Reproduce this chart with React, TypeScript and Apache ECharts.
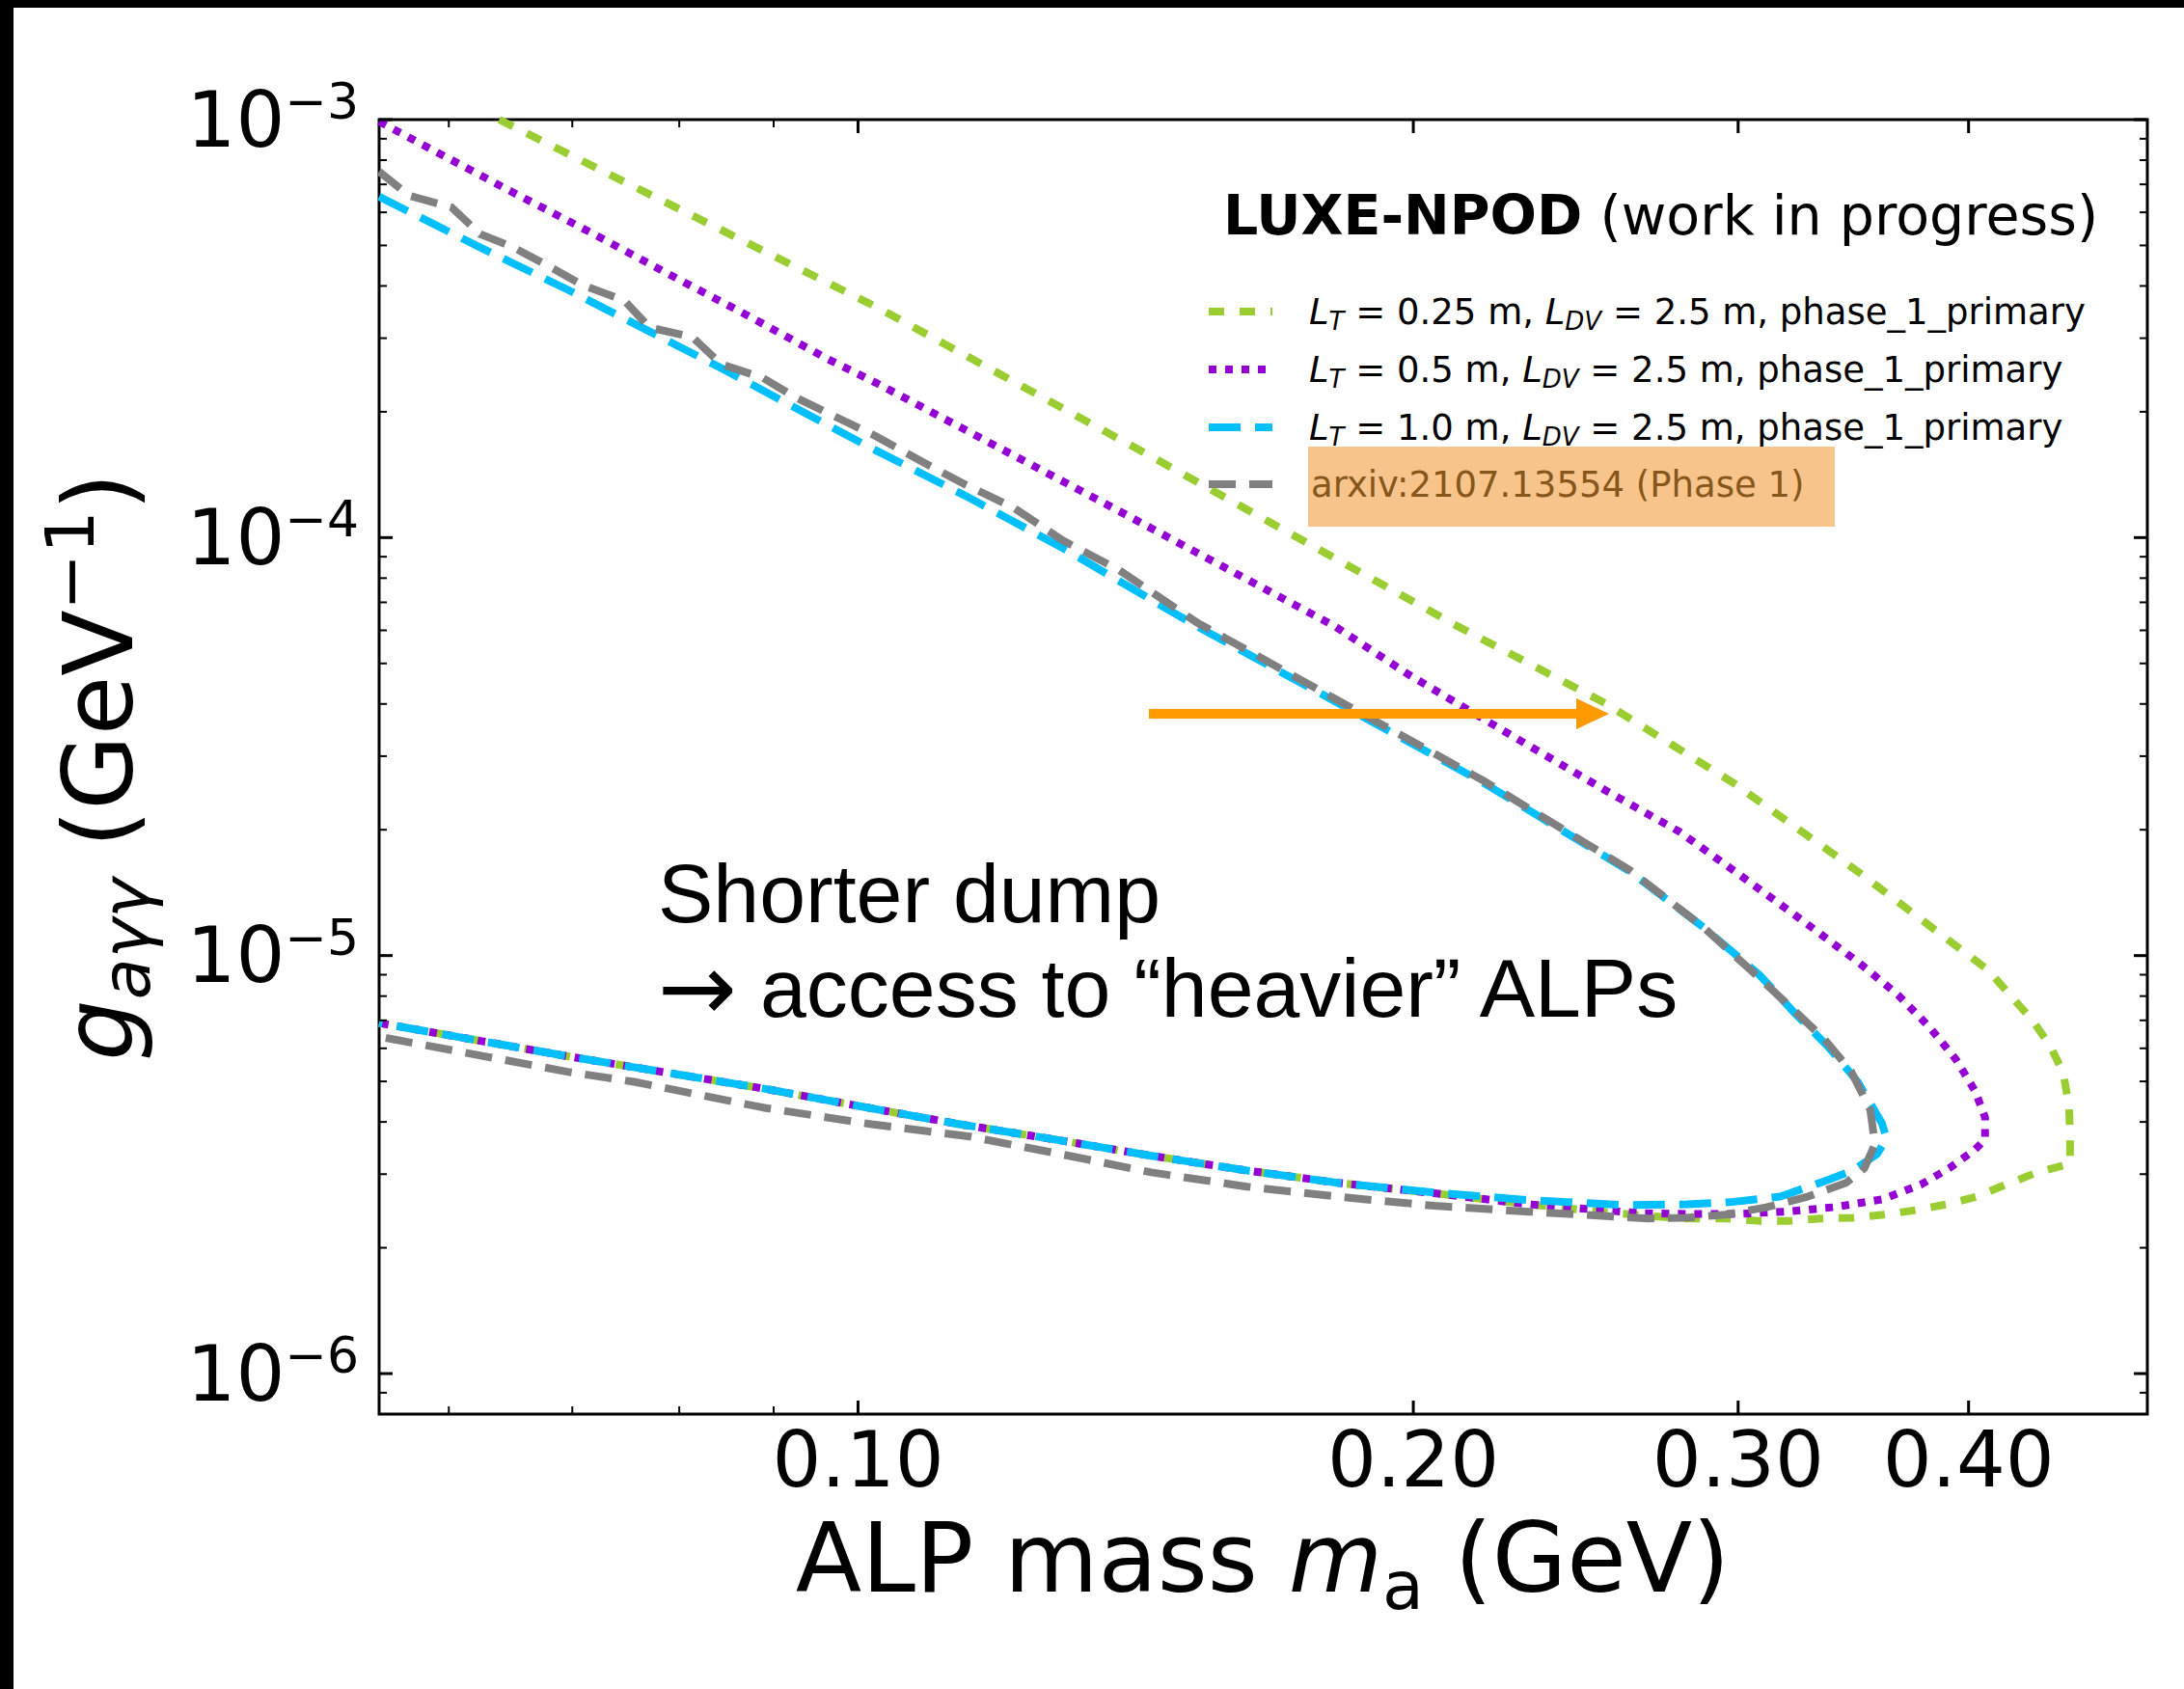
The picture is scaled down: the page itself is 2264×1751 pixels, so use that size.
import React, { useEffect, useRef } from 'react';
import * as echarts from 'echarts';

const W = 2264;
const H = 1751;
const FONT = 'DejaVu Sans';

// Axis ranges (log–log)
const X_MIN = 0.055;
const X_MAX = 0.5;
const Y_MIN = 8e-7;
const Y_MAX = 1e-3;

// Tick positions and labels
const xMajorTicks = [0.1, 0.2, 0.3, 0.4];
const xTickLabels = ['0.10', '0.20', '0.30', '0.40'];
const xMinorTicks = [0.06, 0.07, 0.08, 0.09];
const yMajorTicks = [1e-6, 1e-5, 1e-4, 1e-3];
const yTickExponents = ['−6', '−5', '−4', '−3'];
const yMinorTicks = [
  9e-7,
  2e-6, 3e-6, 4e-6, 5e-6, 6e-6, 7e-6, 8e-6, 9e-6,
  2e-5, 3e-5, 4e-5, 5e-5, 6e-5, 7e-5, 8e-5, 9e-5,
  2e-4, 3e-4, 4e-4, 5e-4, 6e-4, 7e-4, 8e-4, 9e-4,
];

// Sensitivity contours: [ALP mass m_a (GeV), g_aγγ (GeV^-1)]
const contourLT025: [number, number][] = [
  [0.0639, 1.0e-3], [0.1026, 3.54e-4], [0.1455, 1.53e-4], [0.2113, 6.14e-5],
  [0.254, 4.02e-5], [0.2982, 2.59e-5], [0.3483, 1.59e-5], [0.4098, 9.24e-6],
  [0.4213, 8.04e-6], [0.4331, 7.01e-6], [0.4426, 6.11e-6], [0.4501, 5.26e-6],
  [0.4534, 4.39e-6], [0.454, 3.73e-6], [0.454, 3.18e-6], [0.4342, 3.01e-6],
  [0.4188, 2.83e-6], [0.4039, 2.65e-6], [0.3891, 2.54e-6], [0.3744, 2.46e-6],
  [0.3598, 2.4e-6], [0.3462, 2.36e-6], [0.3327, 2.35e-6], [0.3202, 2.32e-6],
  [0.3077, 2.32e-6], [0.2953, 2.35e-6], [0.2821, 2.35e-6], [0.2656, 2.39e-6],
  [0.2501, 2.45e-6], [0.2312, 2.54e-6], [0.2053, 2.7e-6], [0.182, 2.86e-6],
  [0.1625, 3.06e-6], [0.1442, 3.32e-6], [0.1279, 3.63e-6], [0.1135, 3.95e-6],
  [0.1026, 4.28e-6], [0.0888, 4.81e-6], [0.0698, 5.73e-6], [0.055, 6.9e-6],
];

const contourLT05: [number, number][] = [
  [0.055, 9.89e-4], [0.0594, 8.26e-4], [0.0649, 6.72e-4], [0.0721, 5.29e-4],
  [0.0787, 4.3e-4], [0.087, 3.41e-4], [0.0962, 2.68e-4], [0.1022, 2.35e-4],
  [0.1369, 1.19e-4], [0.1813, 6.14e-5], [0.1987, 4.71e-5], [0.2246, 3.42e-5],
  [0.254, 2.49e-5], [0.2787, 1.98e-5], [0.2982, 1.6e-5], [0.3221, 1.25e-5],
  [0.3491, 9.59e-6], [0.3664, 8.04e-6], [0.3812, 6.72e-6], [0.3938, 5.64e-6],
  [0.4034, 4.73e-6], [0.4083, 4.1e-6], [0.4083, 3.63e-6], [0.4034, 3.44e-6],
  [0.3905, 3.1e-6], [0.3767, 2.83e-6], [0.359, 2.61e-6], [0.338, 2.5e-6],
  [0.3182, 2.44e-6], [0.2996, 2.41e-6], [0.2821, 2.41e-6], [0.2656, 2.42e-6],
  [0.2312, 2.54e-6], [0.2053, 2.7e-6], [0.182, 2.86e-6], [0.1625, 3.06e-6],
  [0.1442, 3.32e-6], [0.1279, 3.63e-6], [0.1135, 3.95e-6], [0.1026, 4.28e-6],
  [0.0888, 4.81e-6], [0.0698, 5.73e-6], [0.055, 6.9e-6],
];

const contourLT10: [number, number][] = [
  [0.055, 6.54e-4], [0.0626, 4.91e-4], [0.0695, 3.93e-4], [0.0769, 3.13e-4],
  [0.0845, 2.53e-4], [0.0905, 2.15e-4], [0.1008, 1.67e-4], [0.1143, 1.26e-4],
  [0.1289, 9.48e-5], [0.1526, 6.14e-5], [0.1813, 4.06e-5], [0.218, 2.6e-5],
  [0.2621, 1.59e-5], [0.2872, 1.17e-5], [0.3081, 8.99e-6], [0.3221, 7.27e-6],
  [0.3355, 6.07e-6], [0.3483, 4.99e-6], [0.359, 3.97e-6], [0.3611, 3.65e-6],
  [0.3568, 3.35e-6], [0.3462, 3.06e-6], [0.3351, 2.9e-6], [0.3162, 2.65e-6],
  [0.2968, 2.57e-6], [0.2814, 2.54e-6], [0.2605, 2.53e-6], [0.2312, 2.6e-6],
  [0.2053, 2.71e-6], [0.182, 2.86e-6], [0.1625, 3.06e-6], [0.1442, 3.32e-6],
  [0.1279, 3.63e-6], [0.1135, 3.95e-6], [0.1026, 4.28e-6], [0.0888, 4.81e-6],
  [0.0698, 5.73e-6], [0.055, 6.9e-6],
];

const contourArxiv: [number, number][] = [
  [0.055, 7.51e-4], [0.0571, 6.58e-4], [0.0602, 6.17e-4], [0.0624, 5.32e-4],
  [0.0649, 4.97e-4], [0.0681, 4.44e-4], [0.0709, 4.02e-4], [0.0747, 3.69e-4],
  [0.0771, 3.18e-4], [0.0813, 3.02e-4], [0.0843, 2.6e-4], [0.0888, 2.41e-4],
  [0.0924, 2.17e-4], [0.0962, 1.99e-4], [0.1022, 1.75e-4], [0.1089, 1.5e-4],
  [0.1143, 1.34e-4], [0.1214, 1.18e-4], [0.1289, 9.89e-5], [0.1386, 8.35e-5],
  [0.1526, 6.27e-5], [0.1813, 4.12e-5], [0.218, 2.63e-5], [0.2621, 1.6e-5],
  [0.2872, 1.17e-5], [0.3088, 8.76e-6], [0.3213, 7.43e-6], [0.3339, 6.33e-6],
  [0.3454, 5.29e-6], [0.3538, 4.28e-6], [0.3559, 3.54e-6], [0.3512, 3.1e-6],
  [0.3433, 2.86e-6], [0.3272, 2.65e-6], [0.3107, 2.5e-6], [0.2953, 2.4e-6],
  [0.2811, 2.36e-6], [0.2682, 2.35e-6], [0.2312, 2.44e-6], [0.2053, 2.52e-6],
  [0.182, 2.65e-6], [0.1625, 2.8e-6], [0.1442, 3.03e-6], [0.1279, 3.37e-6],
  [0.115, 3.69e-6], [0.1017, 3.95e-6], [0.0888, 4.33e-6], [0.0756, 4.99e-6],
  [0.0698, 5.26e-6], [0.055, 6.4e-6],
];

const GREEN = '#9ACD32';
const PURPLE = '#9400D3';
const BLUE = '#00BFFF';
const GRAY = '#808080';

const curves = [
  { name: 'LT0.25', lt: '0.25', data: contourLT025, color: GREEN, dash: [16, 16] },
  { name: 'LT0.5', lt: '0.5', data: contourLT05, color: PURPLE, dash: [8, 9] },
  { name: 'LT1.0', lt: '1.0', data: contourLT10, color: BLUE, dash: [33, 15] },
  { name: 'arxiv', lt: '', data: contourArxiv, color: GRAY, dash: [28, 14] },
];

const MAJOR_LEN = 14;
const MINOR_LEN = 8;

const tickLine = (x1: number, y1: number, x2: number, y2: number, w: number) => ({
  type: 'line',
  shape: { x1, y1, x2, y2 },
  style: { stroke: '#000', lineWidth: w },
});

function buildOption() {
  const lineSeries = curves.map((c) => ({
    type: 'line',
    name: c.name,
    data: c.data,
    showSymbol: false,
    symbol: 'none',
    smooth: false,
    clip: true,
    silent: true,
    lineStyle: { color: c.color, width: 8, type: c.dash, cap: 'butt', join: 'round' },
  }));

  const xTickSeries = (values: number[], major: boolean) => ({
    type: 'custom',
    coordinateSystem: 'cartesian2d',
    silent: true,
    z: 5,
    data: values.map((v) => [v, Y_MIN]),
    renderItem: (params: any, api: any) => {
      const v = api.value(0);
      const b = api.coord([v, Y_MIN]);
      const t = api.coord([v, Y_MAX]);
      const len = major ? MAJOR_LEN : MINOR_LEN;
      const w = major ? 3 : 2;
      const children: any[] = [
        tickLine(b[0], b[1], b[0], b[1] - len, w),
        tickLine(t[0], t[1], t[0], t[1] + len, w),
      ];
      if (major) {
        children.push({
          type: 'text',
          x: b[0],
          y: b[1] + 47,
          style: {
            text: xTickLabels[params.dataIndex],
            fontFamily: FONT,
            fontSize: 80,
            fill: '#000',
            align: 'center',
            verticalAlign: 'middle',
          },
        });
      }
      return { type: 'group', children };
    },
  });

  const yTickSeries = (values: number[], major: boolean) => ({
    type: 'custom',
    coordinateSystem: 'cartesian2d',
    silent: true,
    z: 5,
    data: values.map((v) => [X_MIN, v]),
    renderItem: (params: any, api: any) => {
      const v = api.value(1);
      const l = api.coord([X_MIN, v]);
      const r = api.coord([X_MAX, v]);
      const len = major ? MAJOR_LEN : MINOR_LEN;
      const w = major ? 3 : 2;
      const children: any[] = [
        tickLine(l[0], l[1], l[0] + len, l[1], w),
        tickLine(r[0], r[1], r[0] - len, r[1], w),
      ];
      if (major) {
        children.push({
          type: 'text',
          x: l[0] - 21,
          y: l[1],
          style: {
            text: `{b|10}{s|${yTickExponents[params.dataIndex]}}`,
            align: 'right',
            verticalAlign: 'middle',
            fill: '#000',
            rich: {
              b: { fontFamily: FONT, fontSize: 80, lineHeight: 90, fill: '#000' },
              s: { fontFamily: FONT, fontSize: 52, fill: '#000', verticalAlign: 'top' },
            },
          },
        });
      }
      return { type: 'group', children };
    },
  });

  // Main tokens get a tall line box; sub/superscripts sit at its bottom/top edge
  const titleRich = {
    n: { fontFamily: FONT, fontSize: 100, lineHeight: 128, fill: '#000' },
    i: { fontFamily: FONT, fontSize: 100, lineHeight: 128, fontStyle: 'italic', fill: '#000' },
    sub: { fontFamily: FONT, fontSize: 70, fill: '#000', verticalAlign: 'bottom' },
    subi: { fontFamily: FONT, fontSize: 70, fontStyle: 'italic', fill: '#000', verticalAlign: 'bottom' },
    sup: { fontFamily: FONT, fontSize: 70, fill: '#000', verticalAlign: 'top' },
  };

  const legendRich = {
    n: { fontFamily: FONT, fontSize: 37, lineHeight: 45, fill: '#000' },
    i: { fontFamily: FONT, fontSize: 37, lineHeight: 45, fontStyle: 'italic', fill: '#000' },
    sub: { fontFamily: FONT, fontSize: 26, fontStyle: 'italic', fill: '#000', verticalAlign: 'bottom' },
  };

  const legendRows = [323, 383, 443, 502];
  const legendElements: any[] = [];
  curves.forEach((c, k) => {
    const y = legendRows[k];
    if (c.name === 'arxiv') {
      legendElements.push({
        type: 'rect',
        shape: { x: 1356, y: 463, width: 546, height: 83 },
        style: { fill: '#F7C48C' },
      });
    }
    legendElements.push({
      type: 'line',
      shape: { x1: 1253, y1: y, x2: 1319, y2: y },
      style: { stroke: c.color, lineWidth: 8, lineDash: c.dash, lineCap: 'butt' },
    });
    legendElements.push({
      type: 'text',
      x: c.name === 'arxiv' ? 1359 : 1357,
      y,
      style:
        c.name === 'arxiv'
          ? {
              text: 'arxiv:2107.13554 (Phase 1)',
              fontFamily: FONT,
              fontSize: 37,
              fill: '#86561A',
              align: 'left',
              verticalAlign: 'middle',
            }
          : {
              text: `{i|L}{sub|T}{n| = ${c.lt} m, }{i|L}{sub|DV}{n| = 2.5 m, phase_1_primary}`,
              rich: legendRich,
              align: 'left',
              verticalAlign: 'middle',
              fill: '#000',
            },
    });
  });

  return {
    animation: false,
    backgroundColor: '#fff',
    grid: {
      left: 393,
      top: 124,
      width: 1833,
      height: 1342,
      show: true,
      borderColor: '#000',
      borderWidth: 3,
      backgroundColor: 'transparent',
      containLabel: false,
    },
    xAxis: {
      type: 'log',
      logBase: 10,
      min: X_MIN,
      max: X_MAX,
      axisLine: { show: false },
      axisTick: { show: false },
      axisLabel: { show: false },
      splitLine: { show: false },
      minorTick: { show: false },
    },
    yAxis: {
      type: 'log',
      logBase: 10,
      min: Y_MIN,
      max: Y_MAX,
      axisLine: { show: false },
      axisTick: { show: false },
      axisLabel: { show: false },
      splitLine: { show: false },
      minorTick: { show: false },
    },
    series: [
      ...lineSeries,
      xTickSeries(xMajorTicks, true),
      xTickSeries(xMinorTicks, false),
      yTickSeries(yMajorTicks, true),
      yTickSeries(yMinorTicks, false),
    ],
    graphic: [
      // frame bands along the top and left edges
      { type: 'rect', z: 100, shape: { x: 0, y: 0, width: W, height: 8 }, style: { fill: '#000' } },
      { type: 'rect', z: 100, shape: { x: 0, y: 0, width: 14, height: H }, style: { fill: '#000' } },
      // axis titles
      {
        type: 'text',
        z: 100,
        x: 1309,
        y: 1615,
        style: {
          text: '{n|ALP mass }{i|m}{sub|a}{n| (GeV)}',
          rich: titleRich,
          align: 'center',
          verticalAlign: 'middle',
          fill: '#000',
        },
      },
      {
        type: 'text',
        z: 100,
        x: 102,
        y: 795,
        rotation: Math.PI / 2,
        style: {
          text: '{i|g}{subi|aγγ}{n| (GeV}{sup|−1}{n|)}',
          rich: titleRich,
          align: 'center',
          verticalAlign: 'middle',
          fill: '#000',
        },
      },
      // legend header
      {
        type: 'text',
        z: 100,
        x: 1268,
        y: 223,
        style: {
          text: '{b|LUXE-NPOD}{n| (work in progress)}',
          rich: {
            b: { fontFamily: FONT, fontSize: 57, fontWeight: 'bold', lineHeight: 57, fill: '#000' },
            n: { fontFamily: FONT, fontSize: 57, lineHeight: 57, fill: '#000' },
          },
          align: 'left',
          verticalAlign: 'middle',
          fill: '#000',
        },
      },
      ...legendElements.map((e) => ({ ...e, z: 100 })),
      // annotation
      {
        type: 'text',
        z: 100,
        x: 682,
        y: 926,
        style: {
          text: 'Shorter dump',
          fontFamily: 'Liberation Sans',
          fontSize: 86,
          fill: '#000',
          align: 'left',
          verticalAlign: 'middle',
        },
      },
      {
        type: 'text',
        z: 100,
        x: 682,
        y: 1024,
        style: {
          text: '{a|→}{t| access to “heavier” ALPs}',
          rich: {
            a: { fontFamily: FONT, fontSize: 98, lineHeight: 98, fill: '#000' },
            t: { fontFamily: 'Liberation Sans', fontSize: 86, lineHeight: 98, fill: '#000' },
          },
          fill: '#000',
          align: 'left',
          verticalAlign: 'middle',
        },
      },
      {
        type: 'line',
        z: 100,
        shape: { x1: 1191, y1: 740, x2: 1638, y2: 740 },
        style: { stroke: '#FF9900', lineWidth: 10 },
      },
      {
        type: 'polygon',
        z: 100,
        shape: { points: [[1634, 724], [1668, 740], [1634, 756]] },
        style: { fill: '#FF9900' },
      },
    ],
  };
}

export default function App() {
  const ref = useRef<HTMLDivElement>(null);
  useEffect(() => {
    if (!ref.current) return;
    const chart = echarts.init(ref.current, null, { renderer: 'svg', width: W, height: H });
    chart.setOption(buildOption() as any);
    return () => chart.dispose();
  }, []);
  return (
    <div
      ref={ref}
      style={{ position: 'fixed', left: 0, top: 0, width: W, height: H, background: '#fff' }}
    />
  );
}
